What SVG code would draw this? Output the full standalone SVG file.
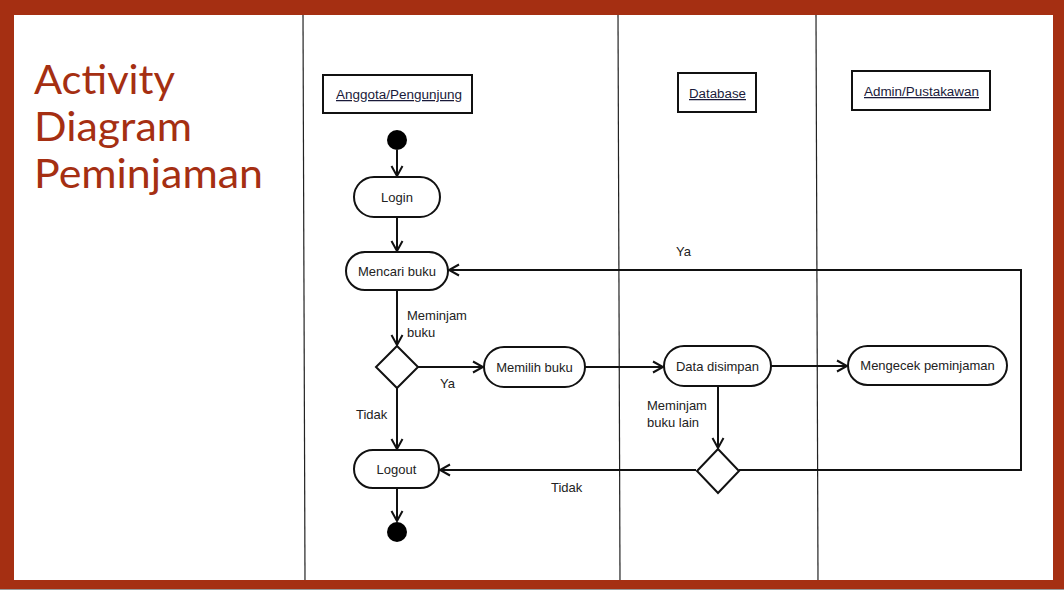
<svg xmlns="http://www.w3.org/2000/svg" width="1064" height="590" viewBox="0 0 1064 590">
<style>
.frame{fill:#A52F12}
.title{font-family:Lato,"Open Sans",sans-serif;font-size:41px;font-weight:400;fill:#A52F12}
.lane{stroke:#222;stroke-width:1.2;fill:none}
.hdr{fill:#fff;stroke:#111;stroke-width:2}
.ht{font-family:"Liberation Sans",Arial,sans-serif;font-size:12.5px;fill:#1a1a3a;text-decoration:underline}
.act{fill:#fff;stroke:#111;stroke-width:2}
.t{font-family:"Liberation Sans",Arial,sans-serif;font-size:13px;fill:#222}
.c{stroke:#111;stroke-width:2;fill:none}
</style>
<defs>
<marker id="arr" markerUnits="userSpaceOnUse" markerWidth="14" markerHeight="14" viewBox="0 0 14 14" refX="12" refY="7" orient="auto">
<path d="M2,1.5 L12,7 L2,12.5" fill="none" stroke="#111" stroke-width="2"/>
</marker>
</defs>
<rect width="1064" height="590" fill="#fff"/>
<g id="frame">
<rect class="frame" x="0" y="0" width="1064" height="15"/>
<rect class="frame" x="0" y="0" width="14" height="590"/>
<rect class="frame" x="1053" y="0" width="11" height="590"/>
<rect class="frame" x="0" y="580" width="1064" height="9"/>
<rect x="0" y="589" width="1064" height="1" fill="#999"/>
</g>
<g id="title">
<text class="title" x="34" y="94" textLength="141" lengthAdjust="spacingAndGlyphs">Activity</text>
<text class="title" x="34" y="141" textLength="158" lengthAdjust="spacingAndGlyphs">Diagram</text>
<text class="title" x="34" y="188" textLength="229" lengthAdjust="spacingAndGlyphs">Peminjaman</text>
</g>
<g id="lanes">
<line class="lane" x1="303" y1="15" x2="305" y2="580"/>
<line class="lane" x1="618" y1="15" x2="620" y2="580"/>
<line class="lane" x1="816" y1="15" x2="818" y2="580"/>
</g>
<g id="lane-anggota">
<rect class="hdr" x="323" y="75" width="149" height="38"/>
<text class="ht" x="336" y="99" textLength="126" lengthAdjust="spacingAndGlyphs">Anggota/Pengunjung</text>
</g>
<g id="lane-database">
<rect class="hdr" x="678" y="73" width="78" height="39"/>
<text class="ht" x="689" y="98" textLength="57" lengthAdjust="spacingAndGlyphs">Database</text>
</g>
<g id="lane-admin">
<rect class="hdr" x="852" y="71" width="138" height="39"/>
<text class="ht" x="864" y="96" textLength="115" lengthAdjust="spacingAndGlyphs">Admin/Pustakawan</text>
</g>
<g id="connectors">
<line class="c" x1="397" y1="150" x2="397" y2="176" marker-end="url(#arr)"/>
<line class="c" x1="397" y1="217" x2="397" y2="251" marker-end="url(#arr)"/>
<line class="c" x1="397" y1="290" x2="397" y2="345" marker-end="url(#arr)"/>
<line class="c" x1="418" y1="367" x2="483" y2="367" marker-end="url(#arr)"/>
<line class="c" x1="585" y1="367" x2="663" y2="367" marker-end="url(#arr)"/>
<line class="c" x1="771" y1="366" x2="847" y2="366" marker-end="url(#arr)"/>
<line class="c" x1="718" y1="385" x2="718" y2="448" marker-end="url(#arr)"/>
<polyline class="c" points="739,470 1021,470 1021,270 449,270" marker-end="url(#arr)"/>
<line class="c" x1="696" y1="470" x2="440" y2="470" marker-end="url(#arr)"/>
<line class="c" x1="397" y1="388" x2="397" y2="449" marker-end="url(#arr)"/>
<line class="c" x1="397" y1="488" x2="397" y2="521" marker-end="url(#arr)"/>
<text class="t" x="407" y="320">Meminjam</text>
<text class="t" x="407" y="337">buku</text>
<text class="t" x="440" y="388">Ya</text>
<text class="t" x="356" y="419">Tidak</text>
<text class="t" x="647" y="410">Meminjam</text>
<text class="t" x="647" y="427">buku lain</text>
<text class="t" x="676" y="256">Ya</text>
<text class="t" x="551" y="492">Tidak</text>
</g>
<g id="start"><circle cx="397" cy="140" r="10" fill="#000"/></g>
<g id="login">
<rect class="act" x="354" y="177" width="86" height="40" rx="20"/>
<text class="t" x="397" y="202" text-anchor="middle">Login</text>
</g>
<g id="mencari">
<rect class="act" x="346" y="252" width="102" height="38" rx="19"/>
<text class="t" x="397" y="276" text-anchor="middle">Mencari buku</text>
</g>
<g id="decision1">
<polygon class="act" points="397,346 418,367 397,388 376,367"/>
</g>
<g id="memilih">
<rect class="act" x="484" y="347" width="101" height="40" rx="20"/>
<text class="t" x="534.5" y="372" text-anchor="middle">Memilih buku</text>
</g>
<g id="data">
<rect class="act" x="664" y="346" width="107" height="40" rx="20"/>
<text class="t" x="717.5" y="371" text-anchor="middle">Data disimpan</text>
</g>
<g id="mengecek">
<rect class="act" x="848" y="346" width="159" height="39" rx="19.5"/>
<text class="t" x="927.5" y="370" text-anchor="middle">Mengecek peminjaman</text>
</g>
<g id="decision2">
<polygon class="act" points="718,449 739,471 718,493 697,471"/>
</g>
<g id="logout">
<rect class="act" x="354" y="450" width="85" height="38" rx="19"/>
<text class="t" x="396.5" y="474" text-anchor="middle">Logout</text>
</g>
<g id="end"><circle cx="397" cy="532" r="10" fill="#000"/></g>
</svg>
